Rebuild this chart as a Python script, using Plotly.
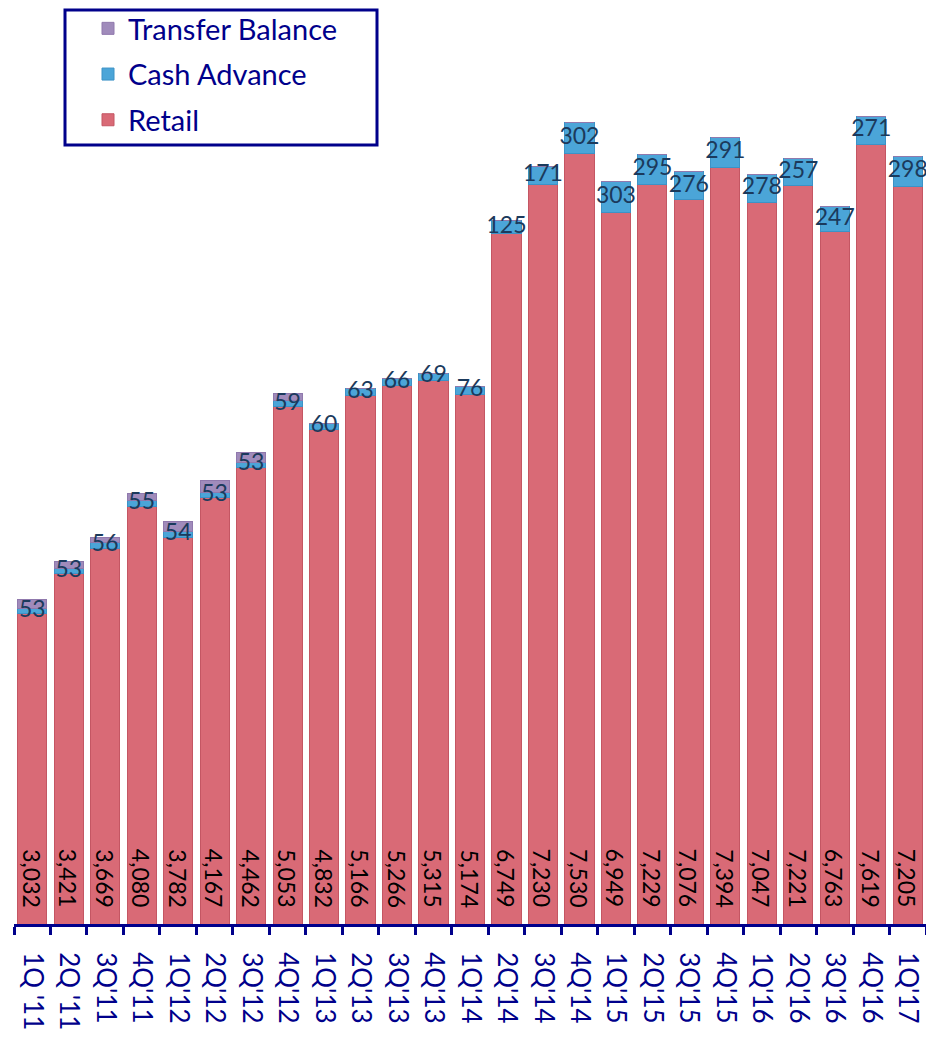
import plotly.graph_objects as go

quarters = ["1Q '11", "2Q '11", "3Q'11", "4Q'11", "1Q'12", "2Q'12", "3Q'12", "4Q'12",
            "1Q'13", "2Q'13", "3Q'13", "4Q'13", "1Q'14", "2Q'14", "3Q'14", "4Q'14",
            "1Q'15", "2Q'15", "3Q'15", "4Q'15", "1Q'16", "2Q'16", "3Q'16", "4Q'16", "1Q'17"]
retail = [3032, 3421, 3669, 4080, 3782, 4167, 4462, 5053, 4832, 5166, 5266, 5315, 5174,
          6749, 7230, 7530, 6949, 7229, 7076, 7394, 7047, 7221, 6763, 7619, 7205]
cash_advance = [53, 53, 56, 55, 54, 53, 53, 59, 60, 63, 66, 69, 76,
                125, 171, 302, 303, 295, 276, 291, 278, 257, 247, 271, 298]
transfer_balance = [90, 65, 48, 70, 100, 117, 97, 70, 0, 0, 0, 0, 0,
                    0, 0, 0, 0, 0, 0, 0, 0, 0, 0, 0, 0]

NAVY = "#00008B"
FONT = "Lato"
W, H = 926, 1038
L, T, B = 14, 0, 114
PW, PH = W - L, H - T - B


def px_x(p):
    return (p - L) / PW


def px_y(p):
    return 1 - (p - T) / PH


fig = go.Figure()
fig.add_trace(go.Bar(
    x=quarters, y=retail, name="Retail", legendgroup="r", legendrank=3,
    marker=dict(color="#D96A76", line=dict(color="#C45663", width=1)),
    hoverinfo="skip",
))
fig.add_trace(go.Bar(
    x=quarters, y=cash_advance, name="Cash Advance", legendgroup="c", legendrank=2,
    marker=dict(color="#4BA5D8", line=dict(color="#3C92C6", width=1)),
    hoverinfo="skip",
))
fig.add_trace(go.Bar(
    x=quarters, y=transfer_balance, name="Transfer Balance", legendgroup="t", legendrank=1,
    marker=dict(color="#A08BBB", line=dict(color="#9079AD", width=1)),
    hoverinfo="skip",
))
fig.add_trace(go.Scatter(
    x=quarters, y=[r + c / 2 for r, c in zip(retail, cash_advance)],
    mode="text", text=[str(v) for v in cash_advance], textposition="middle center",
    textfont=dict(family=FONT, size=23, color="#1B3A5C"), showlegend=False,
    hoverinfo="skip",
))

for q, v in zip(quarters, retail):
    fig.add_annotation(
        x=q, y=0, xref="x", yref="y", text=f"{v:,}", showarrow=False,
        textangle=90, yanchor="bottom", xanchor="center", yshift=14,
        font=dict(family=FONT, size=23, color="#000000"),
    )

# legend frame
fig.add_shape(
    type="rect", xref="paper", yref="paper",
    x0=px_x(65), x1=px_x(377), y0=px_y(145), y1=px_y(10),
    line=dict(color=NAVY, width=3), fillcolor="rgba(0,0,0,0)", layer="above",
)

fig.update_layout(
    width=W, height=H,
    margin=dict(l=L, r=0, t=T, b=B),
    barmode="stack", bargap=0.2,
    plot_bgcolor="white", paper_bgcolor="white",
    showlegend=True,
    legend=dict(
        x=px_x(88), y=px_y(3), xanchor="left", yanchor="top",
        traceorder="grouped", tracegroupgap=5,
        borderwidth=0, bgcolor="rgba(0,0,0,0)",
        font=dict(family=FONT, size=29, color=NAVY),
    ),
    xaxis=dict(
        type="category", range=[-0.5, 24.5],
        showline=True, linecolor=NAVY, linewidth=3,
        ticks="outside", tickson="boundaries", ticklen=8, tickwidth=3, tickcolor=NAVY,
        tickangle=90, tickfont=dict(family=FONT, size=26, color=NAVY),
        ticklabelstandoff=20, showgrid=False,
    ),
    yaxis=dict(range=[0, 9030], visible=False, showgrid=False, zeroline=False),
)

fig.write_html("out.html", config={"displayModeBar": False},
               post_script="document.body.style.margin='0';")
